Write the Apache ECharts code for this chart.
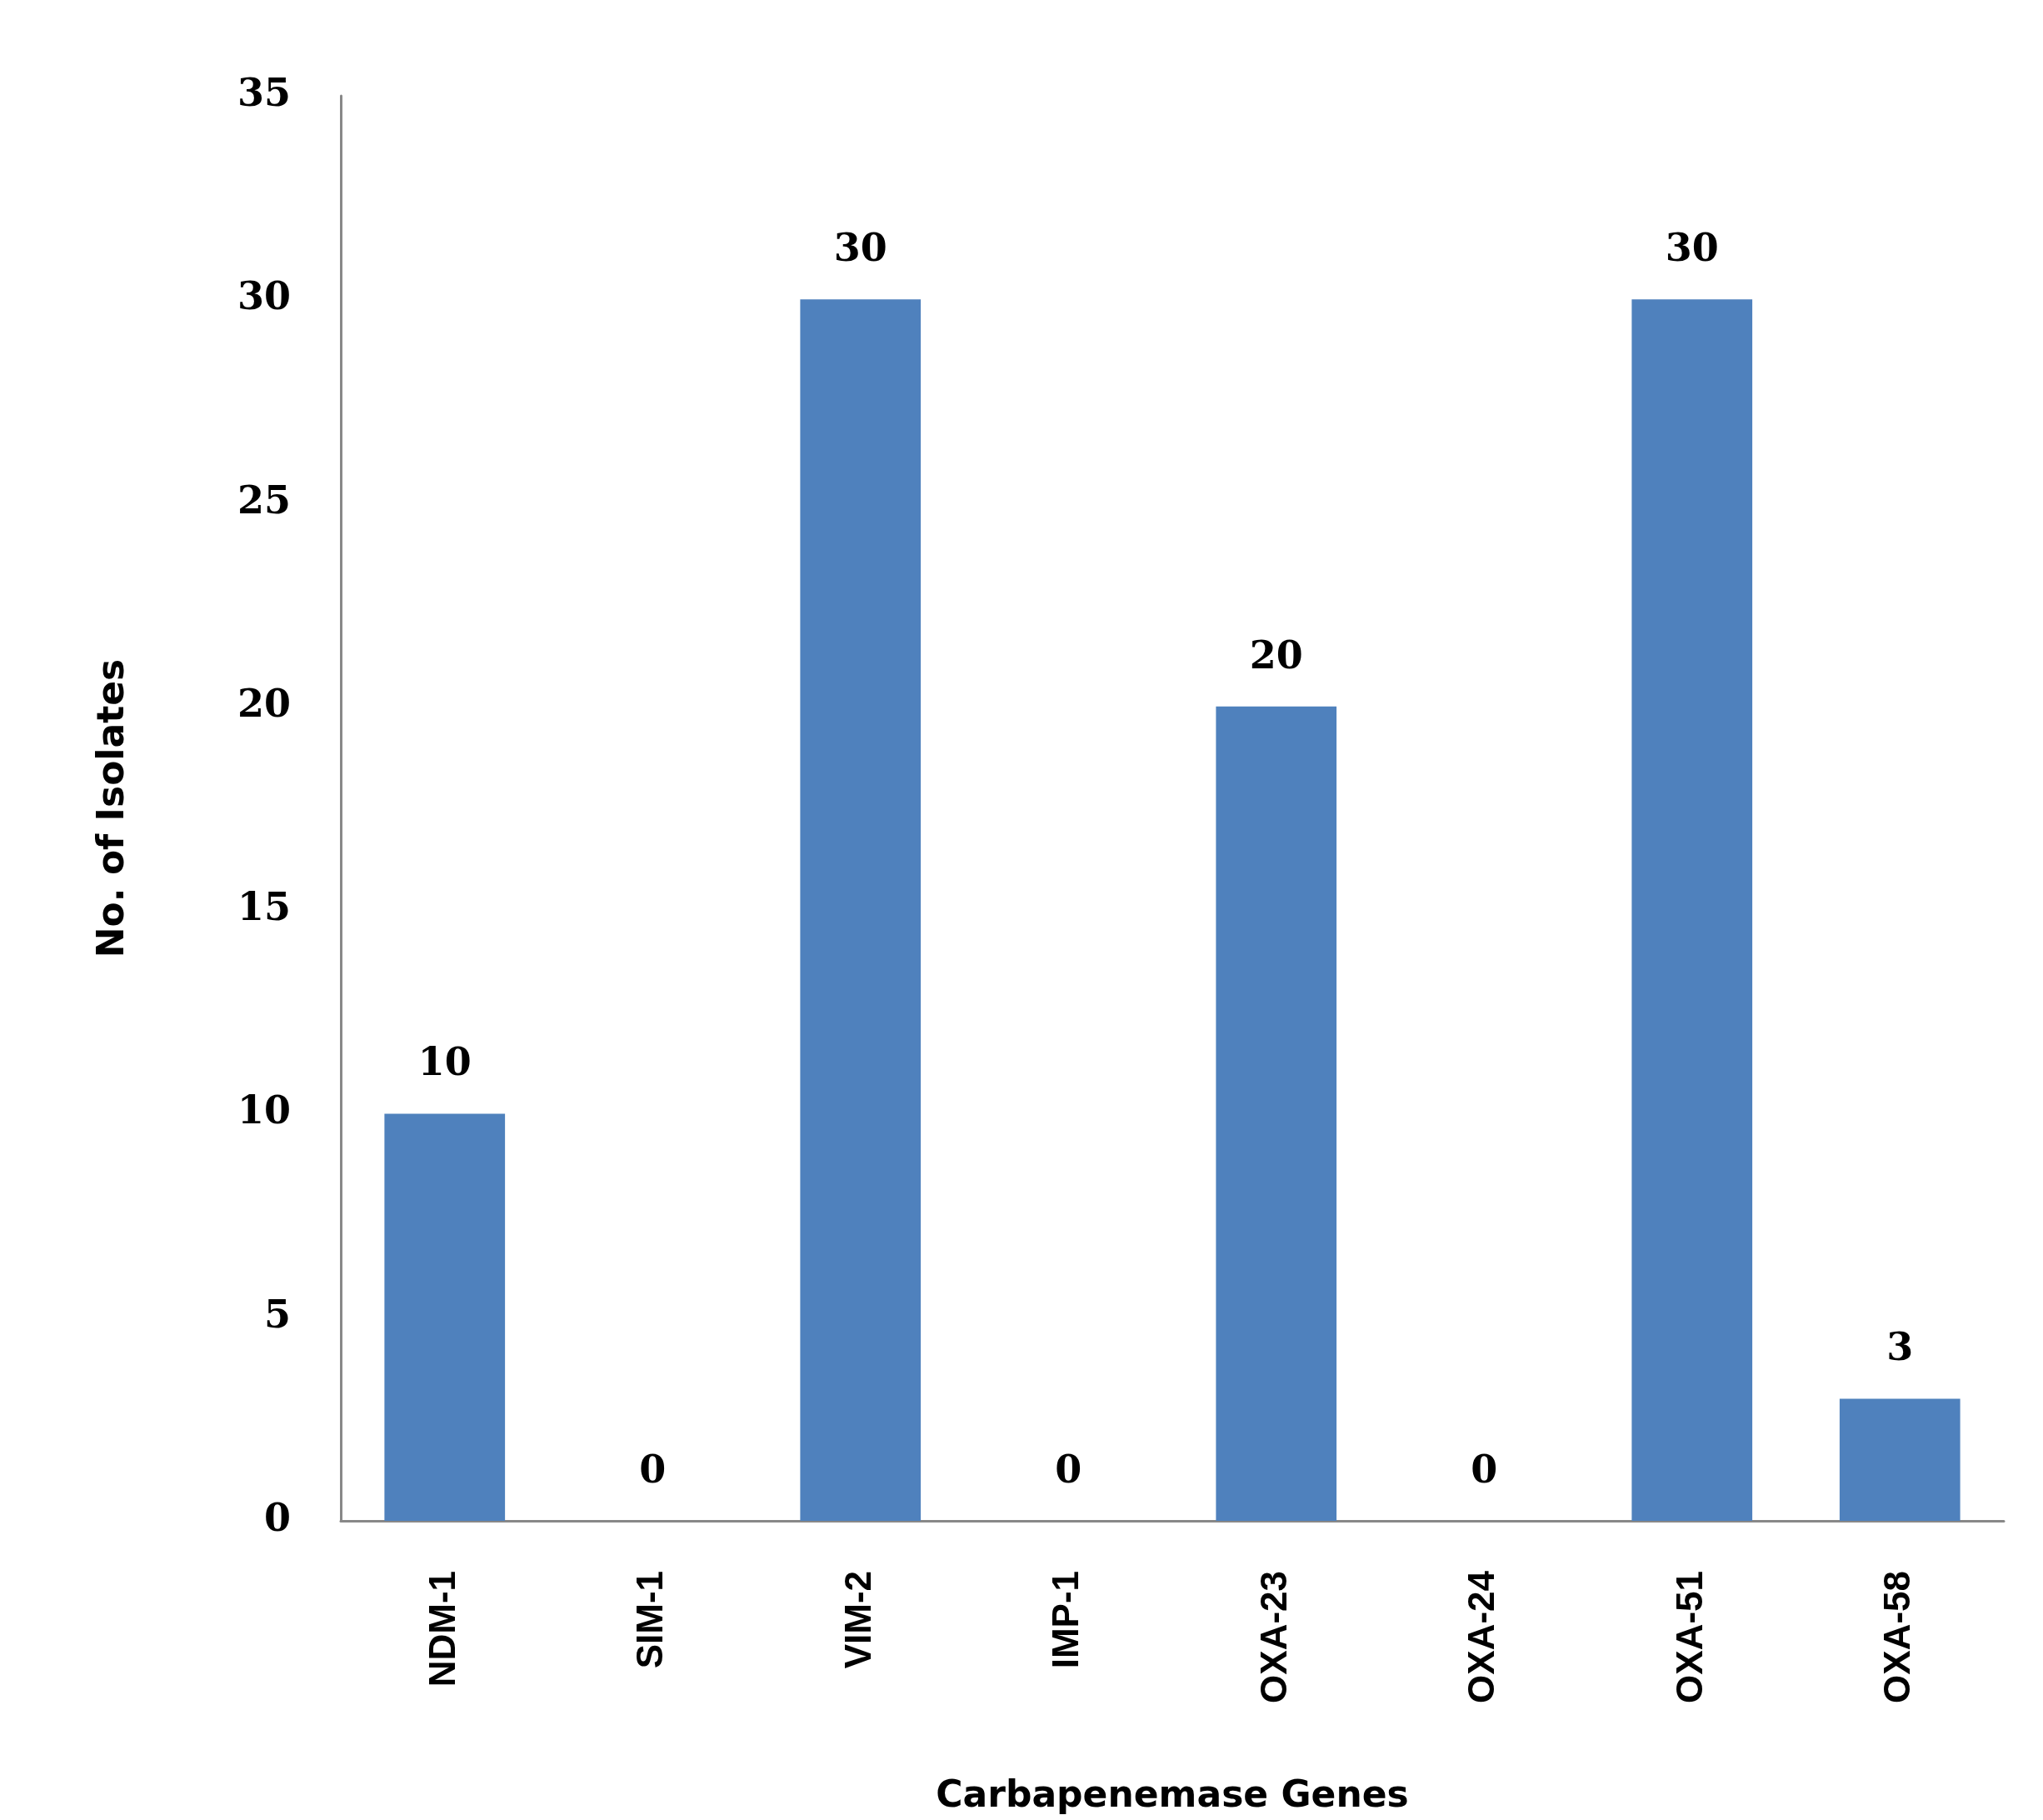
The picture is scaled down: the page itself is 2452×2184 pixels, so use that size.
<!DOCTYPE html>
<html><head><meta charset="utf-8">
<script src="https://cdn.jsdelivr.net/npm/echarts@6/dist/echarts.min.js"></script>
<style>html,body{margin:0;background:#fff}#c{width:2452px;height:2184px}</style>
</head><body><div id="c"></div>
<script>
const categories = ['NDM-1','SIM-1','VIM-2','IMP-1','OXA-23','OXA-24','OXA-51','OXA-58'];
const isolates = [10,0,30,0,20,0,30,3];
const chart = echarts.init(document.getElementById('c'));
chart.setOption({
  animation:false,
  grid:{left:409,right:47,top:115,bottom:359},
  xAxis:{type:'category',data:categories,
    name:'Carbapenemase Genes',nameLocation:'middle',nameGap:310,
    nameTextStyle:{fontFamily:'DejaVu Sans',fontWeight:'bold',fontSize:44,color:'#000'},
    axisLine:{lineStyle:{color:'#888',width:3}},axisTick:{show:false},
    axisLabel:{rotate:90,fontFamily:'Liberation Sans',fontWeight:'bold',fontSize:44,color:'#000',margin:60}},
  yAxis:{type:'value',min:0,max:35,interval:5,
    name:'No. of Isolates',nameLocation:'middle',nameGap:250,
    nameTextStyle:{fontFamily:'DejaVu Sans',fontWeight:'bold',fontSize:44,color:'#000'},
    axisLine:{show:true,lineStyle:{color:'#888',width:3}},axisTick:{show:false},splitLine:{show:false},
    axisLabel:{fontFamily:'DejaVu Serif',fontWeight:'bold',fontSize:46,color:'#000',margin:60}},
  series:[{type:'bar',data:isolates,barWidth:'58%',itemStyle:{color:'#4F81BD'},
    label:{show:true,position:'top',distance:35,fontFamily:'DejaVu Serif',fontWeight:'bold',fontSize:46,color:'#000'}}]
});
</script></body></html>
